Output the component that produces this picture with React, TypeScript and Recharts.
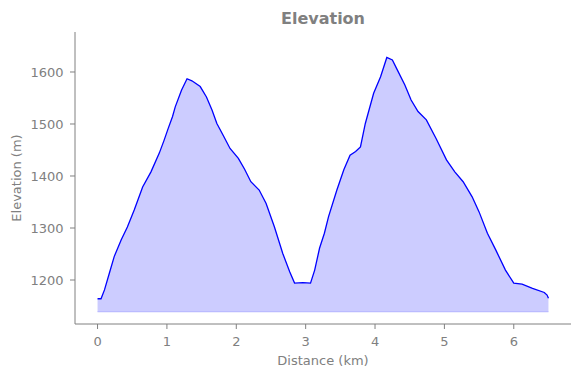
import React from "react";
import { AreaChart, Area, XAxis, YAxis, ReferenceLine } from "recharts";

const distanceKm = [
  0.0, 0.05, 0.1, 0.17, 0.24, 0.34, 0.43, 0.53, 0.65, 0.77, 0.89, 0.96, 1.02, 1.08, 1.12, 1.21, 1.29, 1.36,
  1.48, 1.57, 1.65, 1.72, 1.82, 1.91, 2.03, 2.12, 2.21, 2.33, 2.43, 2.55, 2.67, 2.77, 2.84, 2.96, 3.07,
  3.13, 3.2, 3.27, 3.33, 3.45, 3.55, 3.64, 3.72, 3.79, 3.86, 3.98, 4.08, 4.17, 4.25, 4.31, 4.43, 4.52,
  4.62, 4.74, 4.88, 5.03, 5.15, 5.27, 5.4, 5.5, 5.62, 5.74, 5.88, 6.0, 6.12, 6.27, 6.44, 6.48, 6.5,
];
const elevationM = [
  1164, 1164, 1181, 1213, 1245, 1277, 1302, 1335, 1379, 1408, 1444, 1469, 1492, 1514, 1533, 1565, 1587, 1583,
  1572, 1552, 1527, 1501, 1476, 1453, 1434, 1413, 1389, 1373, 1347, 1302, 1251, 1216, 1194, 1195, 1194,
  1219, 1261, 1290, 1322, 1373, 1412, 1440, 1447, 1456, 1501, 1559, 1591, 1628, 1623, 1607, 1575, 1546,
  1524, 1508, 1472, 1431, 1408, 1389, 1360, 1331, 1290, 1258, 1219, 1194, 1192, 1184, 1176, 1171, 1165,
];
const xTicks = [0, 1, 2, 3, 4, 5, 6];
const yTicks = [1200, 1300, 1400, 1500, 1600];
const fillBase = 1139;

const data = distanceKm.map((d, i) => ({ d, e: elevationM[i] }));

const GRAY = "#808080";
const FONT = "'DejaVu Sans', sans-serif";

export default function App() {
  return (
    <div style={{ position: "absolute", left: 0, top: 0, width: 580, height: 378, background: "#fff" }}>
      <AreaChart width={580} height={378} data={data} margin={{ top: 32, right: 9, left: 0, bottom: 0 }}>
        <XAxis
          dataKey="d"
          type="number"
          domain={[-0.325, 6.825]}
          ticks={xTicks}
          height={54}
          stroke={GRAY}
          tickSize={5}
          tickMargin={8}
          tick={{ fill: GRAY, fontSize: 13, fontFamily: FONT }}
          tickLine={{ stroke: GRAY }}
          allowDataOverflow
        />
        <YAxis
          type="number"
          domain={[1115.4, 1676.9]}
          ticks={yTicks}
          width={75}
          stroke={GRAY}
          tickSize={5}
          tickMargin={6.5}
          tick={{ fill: GRAY, fontSize: 13, fontFamily: FONT }}
          tickLine={{ stroke: GRAY }}
          allowDataOverflow
        />
        <Area
          dataKey="e"
          type="linear"
          baseValue={fillBase}
          stroke="#0000ff"
          strokeWidth={1.3}
          fill="#ccccff"
          fillOpacity={1}
          isAnimationActive={false}
          dot={false}
          activeDot={false}
        />
        <ReferenceLine
          segment={[
            { x: distanceKm[0], y: fillBase },
            { x: distanceKm[distanceKm.length - 1], y: fillBase },
          ]}
          stroke="#b3b3ff"
          strokeWidth={1}
        />
      </AreaChart>
      <svg
        width={580}
        height={378}
        style={{ position: "absolute", left: 0, top: 0, pointerEvents: "none" }}
      >
        <text x={323} y={24} textAnchor="middle" fontFamily={FONT} fontSize={16} fontWeight="bold" fill={GRAY}>
          Elevation
        </text>
        <text x={323} y={365} textAnchor="middle" fontFamily={FONT} fontSize={13} fill={GRAY}>
          Distance (km)
        </text>
        <text
          x={0}
          y={0}
          transform="translate(21,178) rotate(-90)"
          textAnchor="middle"
          fontFamily={FONT}
          fontSize={13}
          fill={GRAY}
        >
          Elevation (m)
        </text>
      </svg>
    </div>
  );
}
